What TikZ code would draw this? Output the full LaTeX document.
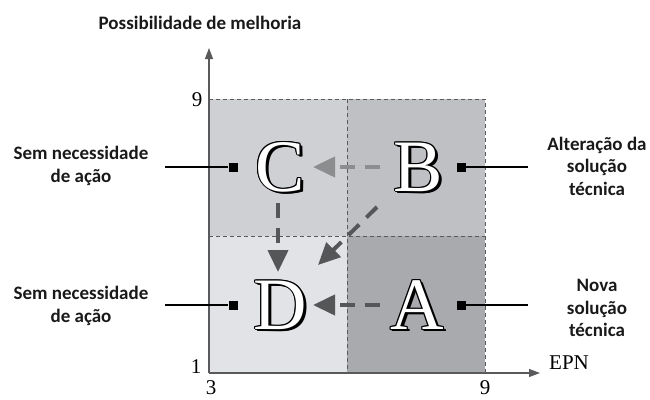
\documentclass[tikz,border=0pt]{standalone}
\usepackage{fontspec}
\setmainfont{Carlito}
\newfontfamily\serifnum{Liberation Serif}
\usetikzlibrary{arrows.meta,calc}
\definecolor{qC}{RGB}{206,208,212}
\definecolor{qB}{RGB}{190,192,195}
\definecolor{qD}{RGB}{225,227,230}
\definecolor{qA}{RGB}{168,170,173}
\definecolor{axisgray}{RGB}{90,90,92}
\definecolor{arrdark}{RGB}{85,86,88}
\definecolor{arrlight}{RGB}{140,141,143}
\definecolor{txt}{RGB}{25,25,25}
\tikzset{
  lbl/.style={font=\fontsize{19}{22.5}\selectfont\bfseries, text=txt, align=center, inner sep=0pt},
  num/.style={font=\serifnum\fontsize{21}{21}\selectfont, text=black, inner sep=0pt},
  bigletter/.style={font=\serifnum\fontsize{74}{74}\selectfont, inner sep=0pt},
  sq/.style={fill=black, minimum size=9pt, inner sep=0pt},
  lead/.style={line width=2.4pt, black},
  flow/.style={line width=4pt, dash pattern=on 15pt off 10pt, -{Triangle[length=22pt,width=20pt]}},
  divider/.style={line width=0.8pt, axisgray, dash pattern=on 4pt off 3pt},
  axisline/.style={line width=1.1pt, axisgray, -{Triangle[length=11pt,width=8pt]}}
}
\newcommand\fancyletter[3]{%
  \foreach \dx/\dy in {-1/0,1/0,0/-1,0/1,-0.8/-0.8,0.8/0.8,-0.8/0.8,0.8/-0.8,1.6/1.6,2.2/2.2,2.8/2.0}
    \node[bigletter, text=black] at ($(#2)+(\dx,\dy)$) {#3};
  \node[bigletter, text=white] (#1) at (#2) {#3};
}
\begin{document}
\begin{tikzpicture}[x=1pt,y=-1pt]
\useasboundingbox (0,0) rectangle (650,399);
% quadrants
\fill[qC] (209,99) rectangle (347,236);
\fill[qB] (347,99) rectangle (485,236);
\fill[qD] (209,236) rectangle (347,373);
\fill[qA] (347,236) rectangle (485,373);
\draw[divider] (209,99) -- (485,99) -- (485,373);
\draw[divider] (347,99) -- (347,373);
\draw[divider] (209,236) -- (485,236);
% axes
\coordinate (O) at (209,373);
\coordinate (ytip) at (209,48);
\coordinate (xtip) at (540,373);
\draw[axisline] (O) -- (ytip);
\draw[axisline] (O) -- (xtip);
% axis labels
\node[lbl] (ylab) at (200,23) {Possibilidade de melhoria};
\node[num, anchor=west] (xlab) at (549,363) {EPN};
\node[num] (y9) at (197,100) {9};
\node[num] (y1) at (196,367) {1};
\node[num] (x3) at (211,388) {3};
\node[num] (x9) at (485,388) {9};
% letters
\coordinate (pC) at (280,167);
\coordinate (pB) at (418,167);
\coordinate (pD) at (280,305);
\coordinate (pA) at (417,305);
\fancyletter{C}{pC}{C}
\fancyletter{B}{pB}{B}
\fancyletter{D}{pD}{D}
\fancyletter{A}{pA}{A}
% flows
\draw[flow, arrlight] ($(B)+(-38,0)$) -- ($(C)+(33,0)$);
\draw[flow, arrdark] ($(A)+(-37,0)$) -- ($(D)+(33,0)$);
\draw[flow, arrdark] ($(C)+(-2,36)$) -- ($(D)+(-2,-33)$);
\draw[flow, arrdark] ($(B)+(-41,40)$) -- ($(D)+(38,-40)$);
% squares and leads
\node[sq] (sC) at (233,167) {};
\node[sq] (sB) at (461,167) {};
\node[sq] (sD) at (233,305) {};
\node[sq] (sA) at (461,305) {};
\coordinate (eC) at (165,167);
\coordinate (eD) at (165,305);
\coordinate (eB) at (528,167);
\coordinate (eA) at (528,305);
\draw[lead] (eC) -- (sC);
\draw[lead] (eD) -- (sD);
\draw[lead] (sB) -- (eB);
\draw[lead] (sA) -- (eA);
% side labels
\node[lbl] (tC) at (81,166) {Sem necessidade\\de ação};
\node[lbl] (tD) at (81,306) {Sem necessidade\\de ação};
\node[lbl] (tB) at (597,166) {Alteração da\\solução\\técnica};
\node[lbl] (tA) at (597,308) {Nova\\solução\\técnica};
\end{tikzpicture}
\end{document}
